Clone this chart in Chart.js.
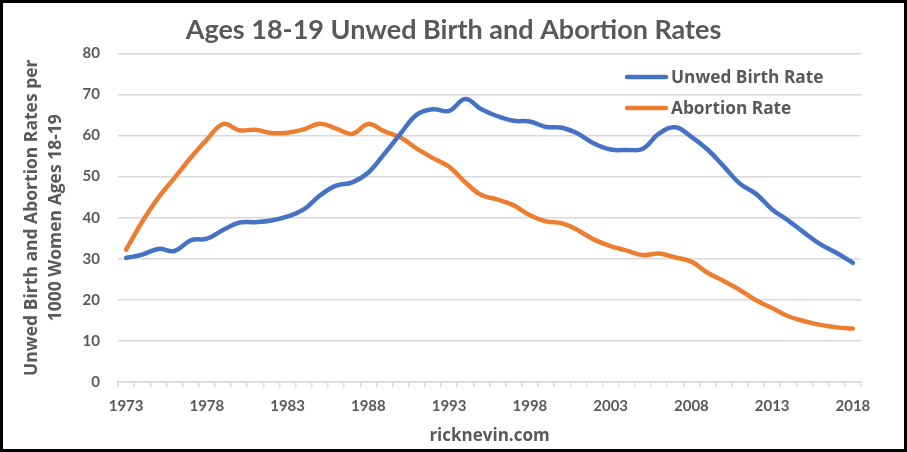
<!DOCTYPE html>
<html><head><meta charset="utf-8">
<script src="https://cdn.jsdelivr.net/npm/chart.js@4"></script>
<style>
html,body{margin:0;padding:0;background:#fff;}
#wrap{position:relative;width:907px;height:452px;}
#frame{position:absolute;left:0;top:0;width:907px;height:452px;box-sizing:border-box;border:3px solid #000;pointer-events:none;}
canvas{position:absolute;left:0;top:0;}
</style></head><body>
<div id="wrap"><canvas id="c" width="907" height="452" style="width:907px;height:452px"></canvas><div id="frame"></div></div>
<script>
const years = ['1973','1974','1975','1976','1977','1978','1979','1980','1981','1982','1983','1984','1985','1986','1987','1988','1989','1990','1991','1992','1993','1994','1995','1996','1997','1998','1999','2000','2001','2002','2003','2004','2005','2006','2007','2008','2009','2010','2011','2012','2013','2014','2015','2016','2017','2018'];
const xTickLabels = ['1973','1978','1983','1988','1993','1998','2003','2008','2013','2018'];
const unwedBirthRate = [30.2,31.0,32.4,31.9,34.5,34.9,37.0,38.8,38.9,39.3,40.3,42.0,45.4,47.8,48.6,51.0,55.6,60.5,65.1,66.4,66.0,68.9,66.4,64.7,63.6,63.4,62.1,61.9,60.4,58.0,56.6,56.5,56.8,60.5,62.0,59.7,56.6,52.5,48.3,45.8,42.0,39.3,36.3,33.5,31.4,29.0];
const abortionRate = [32.2,39.0,44.9,49.7,54.6,59.0,62.8,61.3,61.4,60.6,60.7,61.5,62.9,61.7,60.4,62.8,61.0,59.5,56.8,54.5,52.4,48.6,45.5,44.4,43.0,40.6,39.1,38.6,36.9,34.6,33.1,32.0,30.9,31.3,30.3,29.3,26.6,24.6,22.4,19.9,18.0,16.0,14.8,13.9,13.3,13.0];
const seriesNames = ['Unwed Birth Rate','Abortion Rate'];
const chartTitle = 'Ages 18-19 Unwed Birth and Abortion Rates';
const yAxisTitle = ['Unwed Birth and Abortion Rates per','1000 Women Ages 18-19'];
const xAxisTitle = 'ricknevin.com';

const TXT = '#595959';
const GRID = '#d9d9d9';

const insideLegend = {
  id: 'insideLegend',
  afterDatasetsDraw(chart) {
    const ctx = chart.ctx;
    ctx.save();
    chart.data.datasets.forEach((ds, k) => {
      const y = 77 + k * 31;
      ctx.strokeStyle = ds.borderColor;
      ctx.lineWidth = 4.5;
      ctx.lineCap = 'round';
      ctx.beginPath(); ctx.moveTo(627, y); ctx.lineTo(666, y); ctx.stroke();
      ctx.fillStyle = TXT;
      ctx.font = 'bold 17.3px "Open Sans"';
      ctx.textBaseline = 'middle';
      ctx.textAlign = 'left';
      ctx.fillText(ds.label, 671, y + 1);
    });
    ctx.restore();
  }
};

new Chart(document.getElementById('c'), {
  type: 'line',
  data: {
    labels: years,
    datasets: [
      {label: seriesNames[0], data: unwedBirthRate, borderColor: '#4472C4', backgroundColor: '#4472C4'},
      {label: seriesNames[1], data: abortionRate, borderColor: '#ED7D31', backgroundColor: '#ED7D31'}
    ]
  },
  options: {
    responsive: false,
    animation: false,
    layout: {padding: {left: 8, right: 8, top: 0, bottom: 0}},
    elements: {
      line: {borderWidth: 4.5, tension: 0.4, borderCapStyle: 'round', borderJoinStyle: 'round', fill: false},
      point: {radius: 0, hoverRadius: 0}
    },
    plugins: {
      legend: {display: false},
      tooltip: {enabled: false},
      title: {
        display: true, text: chartTitle, color: TXT,
        font: {family: 'Lato', weight: 'bold', size: 27, lineHeight: 1.2},
        padding: {top: 14, bottom: 7}
      }
    },
    scales: {
      x: {
        type: 'category',
        offset: true,
        grid: {display: true, drawOnChartArea: false, drawTicks: true, tickLength: 5, color: GRID, lineWidth: 1.5, offset: true},
        border: {display: true, color: GRID, width: 1.5},
        ticks: {
          autoSkip: false, maxRotation: 0, minRotation: 0, padding: 10, color: TXT,
          font: {family: 'Lato', weight: 'bold', size: 15},
          callback: (v, i) => xTickLabels.includes(years[i]) ? years[i] : ''
        },
        title: {display: true, text: xAxisTitle, color: TXT, font: {family: 'Open Sans', weight: 'bold', size: 17, lineHeight: 1.2}, padding: {top: 6, bottom: 6}},
        afterFit(s) { s.height = 70; }
      },
      y: {
        min: 0, max: 80,
        ticks: {stepSize: 10, padding: 18, color: TXT, font: {family: 'Lato', weight: 'bold', size: 15}},
        grid: {color: GRID, lineWidth: 1.5, drawTicks: false},
        border: {display: false},
        title: {display: true, text: yAxisTitle, color: TXT, font: {family: 'Open Sans', weight: 'bold', size: 17.5, lineHeight: 1.38}, padding: {top: 12, bottom: 0}},
        afterFit(s) { s.width = 110; }
      },
      yPad: {
        position: 'right',
        display: true,
        grid: {display: false, drawTicks: false},
        border: {display: false},
        ticks: {display: false},
        title: {display: false},
        afterFit(s) { s.width = 38; }
      }
    }
  },
  plugins: [insideLegend]
});
</script>
</body></html>
